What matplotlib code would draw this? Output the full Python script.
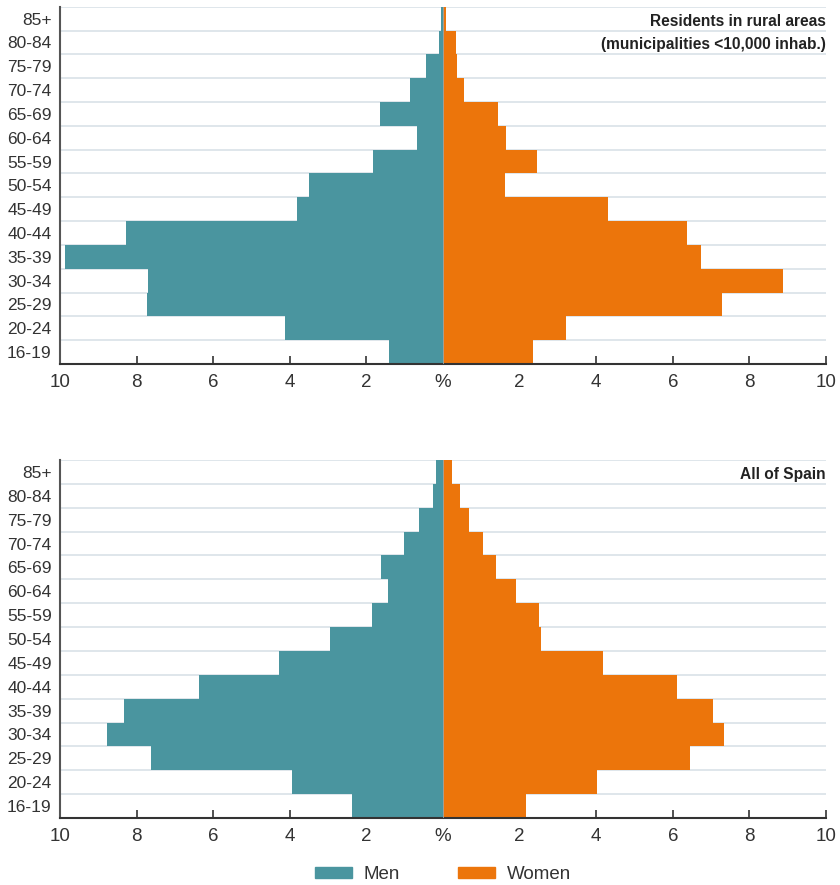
import matplotlib.pyplot as plt
from matplotlib.patches import Patch

ages = ["16-19", "20-24", "25-29", "30-34", "35-39", "40-44", "45-49",
        "50-54", "55-59", "60-64", "65-69", "70-74", "75-79", "80-84", "85+"]

# rural areas (municipalities < 10,000 inhab.), % of population
rural_men = [1.42, 4.13, 7.74, 7.70, 9.86, 8.27, 3.81,
             3.49, 1.84, 0.69, 1.65, 0.87, 0.44, 0.10, 0.05]
rural_women = [2.36, 3.20, 7.28, 8.87, 6.74, 6.37, 4.31,
               1.63, 2.46, 1.65, 1.44, 0.55, 0.36, 0.33, 0.07]

# all of Spain
spain_men = [2.37, 3.93, 7.63, 8.76, 8.33, 6.38, 4.27,
             2.94, 1.85, 1.44, 1.63, 1.01, 0.63, 0.27, 0.18]
spain_women = [2.16, 4.02, 6.46, 7.33, 7.04, 6.12, 4.19,
               2.56, 2.52, 1.90, 1.39, 1.04, 0.69, 0.45, 0.24]

xticks = [-10, -8, -6, -4, -2, 0, 2, 4, 6, 8, 10]
xticklabels = ["10", "8", "6", "4", "2", "%", "2", "4", "6", "8", "10"]

TEAL = "#4a959f"
ORANGE = "#ec750b"
GRID = "#dce4e9"
TEXT = "#333333"

plt.rcParams["font.family"] = ["Liberation Sans", "DejaVu Sans"]


def pyramid(ax, men, women, title):
    pos = list(range(len(ages)))
    for y in range(len(ages)):
        ax.axhline(y + 0.5, color=GRID, linewidth=1.3, zorder=1)
    ax.barh(pos, [-m for m in men], height=1.0, color=TEAL, zorder=2)
    ax.barh(pos, women, height=1.0, color=ORANGE, zorder=2)
    ax.axvline(0, color="#9aa7ab", linewidth=0.6, zorder=3)

    ax.set_xlim(-10, 10)
    ax.set_ylim(-0.5, len(ages) - 0.5)
    ax.set_yticks(pos)
    ax.set_yticklabels(ages, fontsize=12.5, color=TEXT)
    ax.tick_params(axis="y", length=0, pad=6)
    ax.set_xticks(xticks)
    ax.set_xticklabels(xticklabels, fontsize=13.5, color=TEXT)
    ax.tick_params(axis="x", direction="in", length=6, width=1.2,
                   color="#333333", pad=7)

    for s in ["top", "right"]:
        ax.spines[s].set_visible(False)
    ax.spines["left"].set_color("#555555")
    ax.spines["left"].set_linewidth(1.5)
    ax.spines["bottom"].set_color("#333333")
    ax.spines["bottom"].set_linewidth(1.5)

    ax.text(1.0, 0.98, title, transform=ax.transAxes, ha="right", va="top",
            fontsize=11.2, fontweight="bold", color="#222222", linespacing=1.65)


fig = plt.figure(figsize=(8.4, 8.85), dpi=100)
ax1 = fig.add_axes([0.0714, 0.5887, 0.9119, 0.4037])
ax2 = fig.add_axes([0.0714, 0.0757, 0.9119, 0.4045])

pyramid(ax1, rural_men, rural_women,
        "Residents in rural areas\n(municipalities <10,000 inhab.)")
pyramid(ax2, spain_men, spain_women, "All of Spain")

handles = [Patch(color=TEAL, label="Men"), Patch(color=ORANGE, label="Women")]
fig.legend(handles=handles, loc="center", bbox_to_anchor=(0.527, 0.012),
           ncol=2, frameon=False, fontsize=13.5, handlelength=2.0,
           handleheight=0.5, columnspacing=3.1, handletextpad=0.6,
           labelcolor=TEXT)

fig.savefig("out.png", dpi=100)
